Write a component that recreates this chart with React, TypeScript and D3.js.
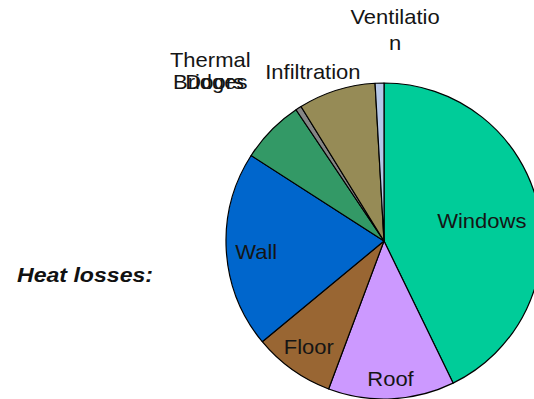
import React from "react";
import * as d3 from "d3";

// Share of total heat loss per building element (%), clockwise from 12 o'clock
const categories = ["Windows", "Roof", "Floor", "Wall", "Doors", "Thermal Bridges", "Infiltration", "Ventilation"];
const shares = [42.8, 12.9, 8.3, 20.1, 6.5, 0.6, 7.9, 0.9];
const sliceColors = ["#00cc99", "#cc99ff", "#996633", "#0066cc", "#339966", "#858585", "#968b56", "#b6c8e8"];
// Label text as wrapped in the chart
const labelLines = [["Windows"], ["Roof"], ["Floor"], ["Wall"], ["Doors"], ["Thermal", "Bridges"], ["Infiltration"], ["Ventilatio", "n"]];
const title = "Heat losses:";

const W = 534;
const H = 399;
const cx = 384;
const cy = 241;
const R = 158;

// Label placement: radius factor on the slice bisector, plus nudges and line spacing
const labelLayout: Record<string, { k: number; dx: number; dy: number; lh: number }> = {
  Windows: { k: 0.635, dx: 0, dy: 3, lh: 0 },
  Roof: { k: 0.873, dx: 0, dy: 0, lh: 0 },
  Floor: { k: 0.82, dx: 0, dy: 0, lh: 0 },
  Wall: { k: 0.81, dx: 0, dy: 3, lh: 0 },
  Doors: { k: 1.12, dx: -43, dy: -35, lh: 0 },
  "Thermal Bridges": { k: 1.12, dx: -78, dy: -21, lh: 21.7 },
  Infiltration: { k: 1.12, dx: -18, dy: 0, lh: 0 },
  Ventilation: { k: 1.12, dx: 16, dy: -34, lh: 25.7 },
};

export default function App() {
  const data = categories.map((c, i) => ({ name: c, value: shares[i], color: sliceColors[i], lines: labelLines[i] }));
  const pie = d3
    .pie<(typeof data)[number]>()
    .sort(null)
    .value((d) => d.value)
    .startAngle(0)
    .endAngle(2 * Math.PI);
  const arcs = pie(data);
  const arc = d3.arc<d3.PieArcDatum<(typeof data)[number]>>().innerRadius(0).outerRadius(R);

  const font = "'Liberation Sans', Arial, sans-serif";

  return (
    <svg
      width={W}
      height={H}
      style={{ position: "absolute", left: 0, top: 0, background: "#fff" }}
      fontFamily={font}
    >
      <g transform={`translate(${cx},${cy})`}>
        {arcs.map((a) => (
          <path key={a.data.name} d={arc(a) || ""} fill={a.data.color} stroke="#000" strokeWidth={1.2} strokeLinejoin="round" />
        ))}
      </g>
      {arcs.map((a) => {
        const lay = labelLayout[a.data.name];
        const rr = lay.k * R;
        const [lx, ly] = d3.arc<any>().innerRadius(rr).outerRadius(rr).centroid(a as any);
        const x = cx + lx + lay.dx;
        const y = cy + ly + lay.dy;
        const n = a.data.lines.length;
        const y0 = -((n - 1) * lay.lh) / 2;
        return (
          <text
            key={"l" + a.data.name}
            transform={`translate(${x},${y}) scale(1.1,1)`}
            textAnchor="middle"
            fontSize={20}
            fill="#151515"
          >
            {a.data.lines.map((t, j) => (
              <tspan key={j} x={0} y={y0 + j * lay.lh + 7}>
                {t}
              </tspan>
            ))}
          </text>
        );
      })}
      <text
        transform={`translate(17,281.5) scale(1.1,1)`}
        fontSize={21}
        fontWeight="bold"
        fontStyle="italic"
        fill="#111"
      >
        {title}
      </text>
    </svg>
  );
}
